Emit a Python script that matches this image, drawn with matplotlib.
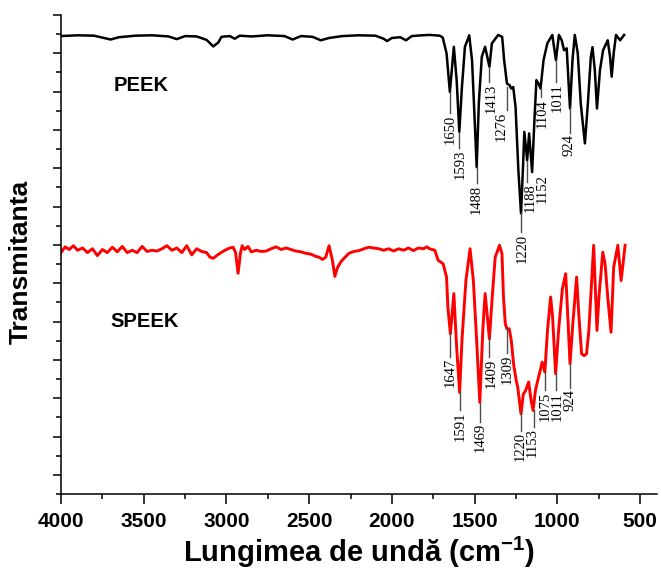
import matplotlib
matplotlib.use('Agg')
import matplotlib.pyplot as plt
from matplotlib.ticker import MultipleLocator, FixedLocator

plt.rcParams['font.family'] = ['Liberation Sans', 'DejaVu Sans']
plt.rcParams['mathtext.fontset'] = 'custom'
plt.rcParams['mathtext.rm'] = 'Liberation Sans:bold'
plt.rcParams['mathtext.it'] = 'Liberation Sans:bold'

# PEEK spectrum (wavenumber, transmittance in stacked units)
peek_wn = [4000, 3900, 3800, 3700, 3650, 3550, 3450, 3350, 3300, 3250,
           3180, 3120, 3080, 3050, 3030, 2980, 2950, 2920, 2850, 2750,
           2650, 2600, 2550, 2480, 2430, 2380, 2300, 2200, 2100, 2050,
           2030, 2000, 1950, 1915, 1880, 1820, 1772, 1711, 1693, 1670,
           1650, 1626, 1609, 1593, 1577, 1559, 1533, 1516, 1500, 1488,
           1475, 1457, 1437, 1411, 1396, 1358, 1334, 1322, 1305, 1289,
           1279, 1267, 1253, 1236, 1220, 1208, 1200, 1183, 1171, 1153,
           1139, 1127, 1114, 1102, 1084, 1061, 1031, 1009, 991, 974,
           960, 944, 924, 909, 895, 877, 859, 834, 816, 798,
           788, 774, 761, 743, 724, 696, 682, 672, 660, 646,
           621, 597]
peek_T = [11.95, 11.97, 11.96, 11.86, 11.92, 11.96, 11.97, 11.94, 11.87, 11.95,
          11.94, 11.85, 11.68, 11.78, 11.93, 11.95, 11.88, 11.96, 11.94, 11.97,
          11.95, 11.86, 11.95, 11.93, 11.84, 11.90, 11.95, 11.97, 11.96, 11.88,
          11.82, 11.90, 11.92, 11.84, 11.95, 11.97, 11.98, 11.96, 11.91, 11.50,
          10.49, 11.67, 10.80, 9.45, 10.62, 11.67, 11.97, 11.32, 9.75, 8.53,
          10.20, 11.41, 11.67, 11.15, 11.76, 11.98, 11.93, 11.32, 10.71, 10.67,
          10.58, 10.62, 10.10, 8.45, 7.32, 8.53, 9.45, 8.71, 9.41, 8.40,
          9.75, 10.80, 10.71, 10.58, 11.32, 11.76, 11.98, 11.32, 11.98, 11.84,
          11.58, 11.63, 10.06, 11.32, 11.98, 11.50, 10.19, 9.15, 10.19, 11.41,
          11.66, 11.06, 10.06, 11.06, 11.58, 11.84, 11.41, 10.89, 11.50, 11.98,
          11.84, 11.98]

# SPEEK spectrum
speek_wn = [4000, 3975, 3950, 3925, 3900, 3870, 3840, 3810, 3780, 3750,
            3720, 3690, 3660, 3630, 3600, 3570, 3540, 3510, 3480, 3450,
            3420, 3390, 3360, 3330, 3300, 3270, 3240, 3210, 3180, 3150,
            3120, 3100, 3080, 3060, 3040, 3010, 2980, 2960, 2945, 2930,
            2915, 2905, 2890, 2870, 2850, 2820, 2790, 2760, 2730, 2700,
            2670, 2640, 2610, 2580, 2550, 2520, 2490, 2460, 2440, 2420,
            2400, 2380, 2360, 2345, 2330, 2310, 2290, 2260, 2230, 2200,
            2170, 2140, 2110, 2080, 2050, 2020, 1990, 1960, 1930, 1900,
            1870, 1840, 1810, 1790, 1772, 1741, 1721, 1691, 1670, 1662,
            1647, 1638, 1626, 1609, 1591, 1577, 1553, 1528, 1508, 1486,
            1469, 1451, 1437, 1425, 1411, 1394, 1376, 1350, 1335, 1326,
            1315, 1305, 1291, 1279, 1265, 1249, 1240, 1220, 1206, 1192,
            1174, 1159, 1147, 1133, 1119, 1092, 1076, 1060, 1041, 1029,
            1011, 993, 970, 950, 938, 924, 907, 884, 871, 854,
            838, 824, 810, 781, 769, 761, 749, 726, 712, 696,
            676, 660, 635, 615, 591]
speek_T = [6.30, 6.45, 6.38, 6.48, 6.36, 6.42, 6.30, 6.40, 6.22, 6.38,
           6.30, 6.44, 6.32, 6.46, 6.30, 6.36, 6.30, 6.46, 6.33, 6.36,
           6.34, 6.40, 6.48, 6.36, 6.42, 6.30, 6.48, 6.24, 6.40, 6.33,
           6.30, 6.18, 6.15, 6.22, 6.28, 6.36, 6.42, 6.44, 6.30, 5.76,
           6.30, 6.48, 6.38, 6.46, 6.32, 6.36, 6.33, 6.34, 6.40, 6.45,
           6.38, 6.42, 6.38, 6.34, 6.32, 6.28, 6.26, 6.20, 6.18, 6.12,
           6.18, 6.48, 6.10, 5.68, 5.90, 6.05, 6.15, 6.28, 6.33, 6.35,
           6.40, 6.44, 6.42, 6.40, 6.36, 6.40, 6.34, 6.40, 6.36, 6.42,
           6.35, 6.42, 6.40, 6.45, 6.40, 6.36, 6.10, 6.01, 5.66, 4.88,
           4.18, 4.61, 5.23, 3.83, 2.65, 4.01, 5.57, 6.40, 5.57, 3.83,
           2.39, 4.27, 5.23, 4.70, 4.05, 5.14, 6.18, 6.49, 6.27, 5.14,
           4.44, 4.31, 4.31, 4.01, 3.40, 2.96, 2.79, 2.09, 2.61, 2.70,
           2.92, 2.44, 2.18, 2.70, 2.96, 3.44, 3.18, 4.27, 5.14, 4.61,
           3.14, 4.27, 5.36, 5.75, 4.70, 3.40, 4.44, 5.66, 4.70, 3.66,
           3.61, 3.66, 4.27, 6.49, 5.14, 4.27, 5.14, 6.31, 6.01, 5.14,
           4.22, 5.92, 6.49, 5.57, 6.49]

# band labels
peek_bands = ['1650', '1593', '1488', '1413', '1276', '1220', '1188', '1152', '1104', '1011', '924']
speek_bands = ['1647', '1591', '1469', '1409', '1309', '1220', '1153', '1075', '1011', '924']

# where each label sits: (x of tick line, line top, line bottom, x of text)
peek_pos = [(1650, 10.48, 9.94, 1650), (1593, 9.45, 9.03, 1585), (1488, 8.54, 8.12, 1488),
            (1411, 11.15, 10.75, 1400), (1305, 10.63, 10.02, 1340), (1220, 7.33, 6.84, 1214),
            (1183, 8.70, 8.14, 1166), (1153, 8.40, 8.40, 1090), (1102, 10.59, 10.35, 1089),
            (1009, 11.33, 10.76, 1004), (924, 10.07, 9.42, 930)]
speek_pos = [(1650, 4.20, 3.58, 1650), (1591, 2.67, 2.19, 1585), (1467, 2.41, 1.89, 1465),
             (1411, 4.07, 3.58, 1400), (1305, 4.33, 3.68, 1305), (1220, 2.11, 1.65, 1225),
             (1143, 2.19, 1.75, 1152), (1076, 3.19, 2.71, 1072), (1011, 3.16, 2.71, 1000),
             (924, 3.42, 2.77, 922)]

fig = plt.figure(figsize=(6.61, 5.70), dpi=100)
ax = fig.add_axes([0.0923, 0.1333, 0.9012, 0.8404])

ax.plot(peek_wn, peek_T, color='black', lw=1.8, solid_joinstyle='round')
ax.plot(speek_wn, speek_T, color='red', lw=2.1, solid_joinstyle='round')

for lab, (xl, y0, y1, xt) in zip(peek_bands, peek_pos):
    if y0 != y1:
        ax.plot([xl, xl], [y0, y1], color='0.3', lw=1)
    ax.text(xt, y1 - 0.04, lab, rotation=90, ha='center', va='top',
            family='Liberation Serif', fontsize=10.5)
for lab, (xl, y0, y1, xt) in zip(speek_bands, speek_pos):
    ax.plot([xl, xl], [y0, y1], color='0.3', lw=1)
    ax.text(xt, y1 - 0.04, lab, rotation=90, ha='center', va='top',
            family='Liberation Serif', fontsize=10.5)

ax.text(3516, 10.65, 'PEEK', ha='center', va='center', fontsize=14.5, fontweight='bold')
ax.text(3492, 4.49, 'SPEEK', ha='center', va='center', fontsize=14.5, fontweight='bold')

ax.set_xlim(4000, 400)
ax.set_ylim(0, 12.5)
ax.xaxis.set_major_locator(FixedLocator([4000, 3500, 3000, 2500, 2000, 1500, 1000, 500]))
ax.xaxis.set_minor_locator(MultipleLocator(250))
ax.yaxis.set_major_locator(MultipleLocator(1, offset=0.5))
ax.yaxis.set_minor_locator(MultipleLocator(1))
ax.set_yticklabels([])
ax.tick_params(axis='both', which='major', direction='out', width=1.1)
ax.tick_params(axis='x', which='major', length=7, pad=6, labelsize=15)
ax.tick_params(axis='x', which='minor', length=3.5, width=1.1)
ax.tick_params(axis='y', which='major', length=6)
ax.tick_params(axis='y', which='minor', length=3.5, width=1.1)
for lbl in ax.get_xticklabels():
    lbl.set_fontweight('bold')

ax.spines['top'].set_visible(False)
ax.spines['right'].set_visible(False)
ax.spines['left'].set_linewidth(1.1)
ax.spines['bottom'].set_linewidth(1.1)

ax.set_xlabel('Lungimea de undă (cm$^{-1}$)', fontsize=21, fontweight='bold', labelpad=3)
ax.set_ylabel('Transmitanta', fontsize=19, fontweight='bold')
ax.yaxis.set_label_coords(-0.047, 0.484)

fig.savefig('out.png', dpi=100)
